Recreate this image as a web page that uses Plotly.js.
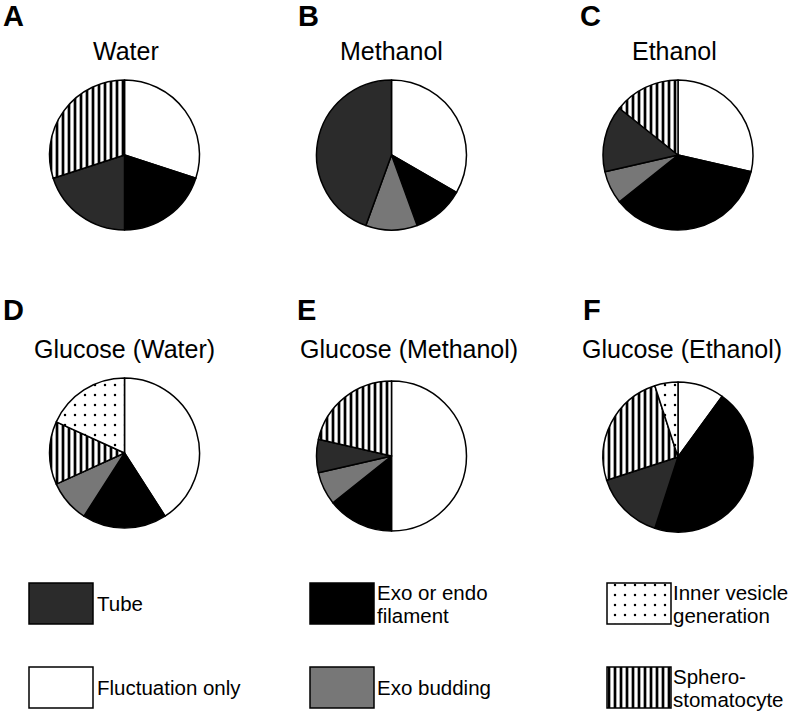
<!DOCTYPE html>
<html><head><meta charset="utf-8">
<script src="https://cdn.plot.ly/plotly-3.0.1.min.js"></script>
<style>html,body{margin:0;padding:0;background:#fff}</style>
</head><body><div id="chart" style="width:800px;height:713px"></div>
<script>
// ---------- data ----------
const categories = ["Fluctuation only","Exo or endo filament","Exo budding","Tube","Sphero-stomatocyte","Inner vesicle generation"];
const panelLetters = ["A","B","C","D","E","F"];
const panelTitles = ["Water","Methanol","Ethanol","Glucose (Water)","Glucose (Methanol)","Glucose (Ethanol)"];
const waterValues = [3,2,0,2,3,0];
const methanolValues = [3,1,1,4,0,0];
const ethanolValues = [4,5,1,2,2,0];
const glucoseWaterValues = [9,4,2,0,3,4];
const glucoseMethanolValues = [14,4,2,2,6,0];
const glucoseEthanolValues = [10,45,0,15,25,5];
const legendOrder = ["Tube","Fluctuation only","Exo or endo filament","Exo budding","Inner vesicle generation","Sphero-stomatocyte"];
const legendLabels = ["Tube","Fluctuation only","Exo or endo|filament","Exo budding","Inner vesicle|generation","Sphero-|stomatocyte"];

// ---------- styles ----------
const W = 800, H = 713;
const fillColors = {"Fluctuation only":"#ffffff","Exo or endo filament":"#000000","Exo budding":"#777777","Tube":"#2b2b2b","Sphero-stomatocyte":"#ffffff","Inner vesicle generation":"#ffffff"};
const patShape = {"Sphero-stomatocyte":"|","Inner vesicle generation":"."};
const patSize = {"Sphero-stomatocyte":6,"Inner vesicle generation":10};
const patSolid = {"Sphero-stomatocyte":0.45,"Inner vesicle generation":0.05};
const allValues = [waterValues,methanolValues,ethanolValues,glucoseWaterValues,glucoseMethanolValues,glucoseEthanolValues];
const pieCenters = [[124.5,155],[391.5,155],[678,155],[124.5,453],[391.5,456],[678,457]];
const pieR = 75;
const letterPos = [[1,16],[296,16],[578,16],[1,310],[295,310],[581,310]];
const titlePos = [[126,51,"center"],[391,51,"center"],[674,51,"center"],[124.5,349,"center"],[298,349,"left"],[580,349,"left"]];
const fontFam = "Liberation Sans, Arial, sans-serif";

const px = x => x / W, py = y => 1 - y / H;
const traces = [];
const annotations = [];

allValues.forEach((vals, i) => {
  const labs = [], vs = [];
  categories.forEach((c, k) => { if (vals[k] > 0) { labs.push(c); vs.push(vals[k]); } });
  const [cx, cy] = pieCenters[i];
  traces.push({
    type: "pie", labels: labs, values: vs, sort: false, direction: "clockwise", rotation: 0,
    textinfo: "none", hoverinfo: "label+percent", showlegend: false,
    domain: {x: [px(cx - pieR), px(cx + pieR)], y: [py(cy + pieR), py(cy - pieR)]},
    marker: {
      colors: labs.map(l => fillColors[l]),
      line: {color: "#000", width: 1.5},
      pattern: {
        shape: labs.map(l => patShape[l] || ""),
        size: labs.map(l => patSize[l] || 8),
        solidity: labs.map(l => patSolid[l] || 0.3),
        fgcolor: "#000", fillmode: "replace"
      }
    }
  });
  annotations.push({xref:"paper",yref:"paper",x:px(letterPos[i][0]),y:py(letterPos[i][1]),xanchor:"left",yanchor:"middle",
    text:"<b>"+panelLetters[i]+"</b>",showarrow:false,font:{family:fontFam,size:29,color:"#000"}});
  annotations.push({xref:"paper",yref:"paper",x:px(titlePos[i][0]),y:py(titlePos[i][1]),xanchor:titlePos[i][2],yanchor:"middle",
    text:panelTitles[i],showarrow:false,font:{family:fontFam,size:25,color:"#000"}});
});

// ---------- legend (bars on a hidden pixel axis) ----------
const colLeft = [29, 310, 607], boxW = 64, rowTop = [583, 667], boxH = 41;
const textX = [95, 375, 671];
legendOrder.forEach((c, j) => {
  const col = Math.floor(j / 2), row = j % 2;
  traces.push({
    type: "bar", x: [colLeft[col] + boxW / 2], y: [boxH], base: [rowTop[row]], width: [boxW],
    xaxis: "x", yaxis: "y", showlegend: false, hoverinfo: "skip",
    marker: {color: fillColors[c], line: {color: "#000", width: 1.5},
      pattern: {shape: patShape[c] || "", size: patSize[c] || 8, solidity: patSolid[c] || 0.3, fgcolor: "#000", fillmode: "replace"}}
  });
  const lines = legendLabels[j].split("|");
  const midY = rowTop[row] + boxH / 2;
  const gap = 23;
  lines.forEach((t, k) => {
    const yy = midY + (k - (lines.length - 1) / 2) * gap;
    annotations.push({xref:"paper",yref:"paper",x:px(textX[col]),y:py(yy),xanchor:"left",yanchor:"middle",
      text:t,showarrow:false,font:{family:fontFam,size:20.5,color:"#000"}});
  });
});

const layout = {
  width: W, height: H, margin: {l:0,r:0,t:0,b:0}, paper_bgcolor:"#fff", plot_bgcolor:"rgba(0,0,0,0)",
  showlegend: false, barmode: "overlay", bargap: 0,
  xaxis: {range:[0,W], visible:false, fixedrange:true, domain:[0,1]},
  yaxis: {range:[H,0], visible:false, fixedrange:true, domain:[0,1]},
  annotations: annotations
};
Plotly.newPlot("chart", traces, layout, {displayModeBar:false, staticPlot:true});
</script></body></html>
